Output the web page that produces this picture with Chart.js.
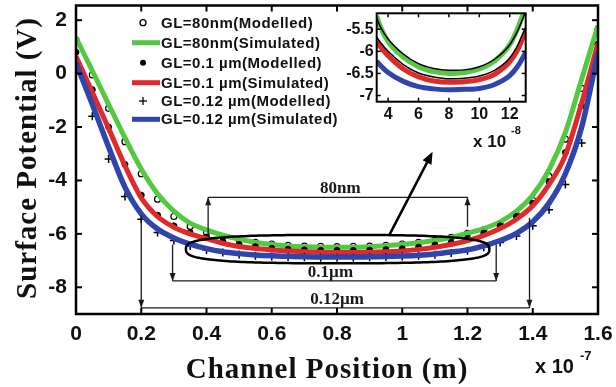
<!DOCTYPE html>
<html>
<head>
<meta charset="utf-8">
<script src="https://cdn.jsdelivr.net/npm/chart.js@4.4.1/dist/chart.umd.min.js"></script>
<style>
  html, body { margin: 0; padding: 0; background: #fff; }
  #wrap { position: relative; width: 616px; height: 387px; }
  #main { position: absolute; left: 0; top: 0; }
  #inset { position: absolute; left: 320px; top: 6px; }
</style>
</head>
<body>
<div id="wrap">
  <canvas id="main" width="616" height="387"></canvas>
  <canvas id="inset" width="210" height="150"></canvas>
</div>
<script>
// channel position, in units of 1e-7 m
const xPos = [0, 0.05, 0.1, 0.15, 0.2, 0.25, 0.3, 0.35, 0.4, 0.45, 0.5, 0.55, 0.6, 0.65, 0.7, 0.75, 0.8,
              0.85, 0.9, 0.95, 1.0, 1.05, 1.1, 1.15, 1.2, 1.25, 1.3, 1.35, 1.4, 1.45, 1.5, 1.55, 1.6];

// surface potential (V)
const mod80  = [1.25, -0.05, -1.3, -2.55, -3.75, -4.7, -5.35, -5.72, -5.95, -6.1, -6.22, -6.32, -6.38, -6.43, -6.46, -6.47, -6.48,
                -6.47, -6.46, -6.43, -6.38, -6.32, -6.24, -6.13, -5.98, -5.85, -5.65, -5.3, -4.75, -3.85, -2.45, -0.55, 1.65];
const sim80  = [1.35, 0.1, -1.15, -2.4, -3.57, -4.5, -5.15, -5.6, -5.85, -6.05, -6.2, -6.32, -6.4, -6.45, -6.48, -6.5, -6.5,
                -6.5, -6.48, -6.44, -6.4, -6.33, -6.25, -6.13, -5.97, -5.8, -5.55, -5.15, -4.55, -3.6, -2.2, -0.2, 1.8];
const mod01  = [0.8, -0.6, -2.0, -3.4, -4.55, -5.3, -5.7, -5.95, -6.12, -6.28, -6.4, -6.48, -6.54, -6.58, -6.6, -6.62, -6.62,
                -6.62, -6.61, -6.59, -6.56, -6.5, -6.42, -6.32, -6.17, -5.97, -5.7, -5.35, -4.85, -4.05, -2.95, -1.2, 1.1];
const sim01  = [0.65, -0.7, -2.05, -3.45, -4.65, -5.35, -5.75, -6.0, -6.18, -6.35, -6.47, -6.55, -6.6, -6.64, -6.67, -6.69, -6.7,
                -6.7, -6.69, -6.67, -6.64, -6.58, -6.5, -6.4, -6.25, -6.06, -5.8, -5.45, -4.95, -4.15, -3.05, -1.1, 1.15];
const mod012 = [0.2, -1.6, -3.2, -4.6, -5.45, -5.95, -6.25, -6.45, -6.6, -6.7, -6.77, -6.82, -6.85, -6.87, -6.88, -6.89, -6.89,
                -6.89, -6.88, -6.87, -6.85, -6.82, -6.78, -6.72, -6.63, -6.5, -6.32, -6.08, -5.7, -5.1, -4.15, -2.6, 0.1];
const sim012 = [0.4, -1.15, -2.75, -4.25, -5.25, -5.82, -6.15, -6.38, -6.55, -6.67, -6.74, -6.79, -6.82, -6.84, -6.86, -6.87, -6.87,
                -6.87, -6.86, -6.85, -6.83, -6.8, -6.75, -6.68, -6.6, -6.45, -6.25, -5.98, -5.55, -4.85, -3.75, -2.0, 0.8];

const legendLabels = ['GL=80nm(Modelled)', 'GL=80nm(Simulated)', 'GL=0.1 µm(Modelled)',
                      'GL=0.1 µm(Simulated)', 'GL=0.12 µm(Modelled)', 'GL=0.12 µm(Simulated)'];

const xTickVals = [0, 0.2, 0.4, 0.6, 0.8, 1, 1.2, 1.4, 1.6];
const xTickText = ['0', '0.2', '0.4', '0.6', '0.8', '1', '1.2', '1.4', '1.6'];
const yTickVals = [-8, -6, -4, -2, 0, 2];
const yTickText = ['-8', '-6', '-4', '-2', '0', '2'];

// inset (zoom of the bottom), position in units of 1e-8 m
const insetX      = [3.25, 3.5, 4, 5, 6, 7, 8, 9, 10, 11, 12, 12.5, 13.05];
const insetSim80  = [-5.2, -5.45, -5.78, -6.13, -6.35, -6.46, -6.5, -6.48, -6.4, -6.22, -5.85, -5.5, -5.0];
const insetMod80  = [-5.25, -5.45, -5.72, -6.06, -6.28, -6.39, -6.43, -6.42, -6.35, -6.18, -5.85, -5.55, -5.1];
const insetSim01  = [-5.78, -5.9, -6.1, -6.4, -6.58, -6.67, -6.7, -6.69, -6.64, -6.52, -6.24, -5.98, -5.55];
const insetMod01  = [-5.68, -5.8, -6.0, -6.3, -6.49, -6.58, -6.62, -6.61, -6.56, -6.43, -6.15, -5.88, -5.45];
const insetSim012 = [-6.22, -6.32, -6.48, -6.68, -6.8, -6.85, -6.87, -6.86, -6.84, -6.75, -6.55, -6.35, -6.03];
const insetXTicks = [4, 6, 8, 10, 12];
const insetXText  = ['4', '6', '8', '10', '12'];
const insetYTicks = [-7, -6.5, -6, -5.5];
const insetYText  = ['-7', '-6.5', '-6', '-5.5'];

const GREEN = '#52c93f', RED = '#e02a2a', BLUE = '#2f45ad';
const SANS = '"Liberation Sans", Arial, sans-serif';
const SERIF = '"Liberation Serif", "Times New Roman", serif';

const pts = (xs, ys) => ys.map((v, i) => ({ x: xs[i], y: v }));

// keep the plot box where the layout padding puts it
const noScalePad = s => { s.paddingTop = 0; s.paddingBottom = 0; s.paddingLeft = 0; s.paddingRight = 0; };

function arrowHead(ctx, x, y, ang, len, half) {
  ctx.beginPath();
  ctx.moveTo(x, y);
  ctx.lineTo(x - len * Math.cos(ang) + half * Math.sin(ang), y - len * Math.sin(ang) - half * Math.cos(ang));
  ctx.lineTo(x - len * Math.cos(ang) - half * Math.sin(ang), y - len * Math.sin(ang) + half * Math.cos(ang));
  ctx.closePath();
  ctx.fill();
}

function seg(ctx, x0, y0, x1, y1) {
  ctx.beginPath(); ctx.moveTo(x0, y0); ctx.lineTo(x1, y1); ctx.stroke();
}

function marker(ctx, style, x, y) {
  ctx.strokeStyle = '#000'; ctx.fillStyle = '#000'; ctx.lineWidth = 1.3;
  if (style === 'cross') {
    seg(ctx, x - 4, y, x + 4, y); seg(ctx, x, y - 4, x, y + 4);
  } else {
    ctx.beginPath(); ctx.arc(x, y, 3, 0, Math.PI * 2);
    if (style === 'dot') ctx.fill(); else ctx.stroke();
  }
}

// dimension lines drawn under the curves' flat part, in data units
const dims = [
  { x0: 0.405, x1: 1.2, from0: -6.04, from1: -5.73, at: -4.63, label: '80nm', lx: 0.81, ly: -4.3 },
  { x0: 0.296, x1: 1.288, from0: -6.4, from1: -6.4, at: -7.76, label: '0.1µm', lx: 0.78, ly: -7.44 },
  { x0: 0.2, x1: 1.39, from0: -5.3, from1: -5.4, at: -8.77, label: '0.12µm', lx: 0.8, ly: -8.47 }
];

const decor = {
  id: 'decor',
  afterDatasetsDraw(chart) {
    const { ctx, chartArea: a, scales: { x, y } } = chart;
    const X = v => x.getPixelForValue(v), Y = v => y.getPixelForValue(v);
    ctx.save();

    // dimension lines
    ctx.strokeStyle = '#1a1a1a'; ctx.fillStyle = '#1a1a1a'; ctx.lineWidth = 1.3;
    dims.forEach(d => {
      const ya = Y(d.at);
      seg(ctx, X(d.x0), ya, X(d.x1), ya);
      [[d.x0, d.from0], [d.x1, d.from1]].forEach(([xv, fv]) => {
        const yf = Y(fv);
        seg(ctx, X(xv), yf, X(xv), ya);
        arrowHead(ctx, X(xv), ya, ya < yf ? -Math.PI / 2 : Math.PI / 2, 8, 3);
      });
      ctx.font = 'bold 17px ' + SERIF;
      ctx.textAlign = 'center'; ctx.textBaseline = 'middle';
      ctx.fillText(d.label, X(d.lx), Y(d.ly));
    });

    // ellipse round the flat region
    const cx = X(0.802), cy = Y(-6.57), rx = X(1.267) - X(0.802), ry = Y(-7.1) - Y(-6.57);
    ctx.strokeStyle = '#000'; ctx.lineWidth = 2.5;
    ctx.beginPath();
    for (let k = 0; k <= 200; k++) {
      const t = k / 200 * Math.PI * 2, c = Math.cos(t), s = Math.sin(t);
      const px = cx + rx * Math.sign(c) * Math.pow(Math.abs(c), 2 / 3);
      const py = cy + ry * Math.sign(s) * Math.pow(Math.abs(s), 2 / 3);
      k ? ctx.lineTo(px, py) : ctx.moveTo(px, py);
    }
    ctx.closePath(); ctx.stroke();

    // pointer to the inset
    const ax0 = X(0.961), ay0 = Y(-6.03), ax1 = X(1.093), ay1 = Y(-2.93);
    const ang = Math.atan2(ay1 - ay0, ax1 - ax0);
    ctx.lineWidth = 2.5; ctx.fillStyle = '#000';
    seg(ctx, ax0, ay0, ax1 - 4 * Math.cos(ang), ay1 - 4 * Math.sin(ang));
    arrowHead(ctx, ax1, ay1, ang, 12, 5);

    // frame and inward ticks
    ctx.strokeStyle = '#000'; ctx.lineWidth = 2.5;
    ctx.strokeRect(a.left, a.top, a.right - a.left, a.bottom - a.top);
    ctx.lineWidth = 2;
    xTickVals.forEach(v => { const p = X(v); seg(ctx, p, a.bottom, p, a.bottom - 6); seg(ctx, p, a.top, p, a.top + 6); });
    yTickVals.forEach(v => { const p = Y(v); seg(ctx, a.left, p, a.left + 6, p); seg(ctx, a.right, p, a.right - 6, p); });

    // legend
    const rows = [22.7, 42.7, 62.7, 82.7, 101, 119.3];
    chart.data.datasets.forEach((ds, i) => {
      const ry0 = rows[i];
      if (ds.showLine === false) {
        marker(ctx, ds.legendMarker, 143, ry0);
      } else {
        ctx.strokeStyle = ds.borderColor; ctx.lineWidth = 5;
        seg(ctx, 132, ry0, 160, ry0);
      }
      ctx.fillStyle = '#111'; ctx.font = 'bold 15px ' + SANS;
      ctx.letterSpacing = '0.5px';
      ctx.textAlign = 'left'; ctx.textBaseline = 'middle';
      ctx.fillText(ds.label, 161, ry0 + 1);
    });

    // axis titles
    ctx.fillStyle = '#111';
    ctx.font = 'bold 29px ' + SERIF;
    ctx.letterSpacing = '1px';
    ctx.textAlign = 'center'; ctx.textBaseline = 'alphabetic';
    ctx.fillText('Channel Position (m)', 327, 378);
    ctx.save();
    ctx.translate(36, 158); ctx.rotate(-Math.PI / 2);
    ctx.fillText('Surface Potential (V)', 0, 0);
    ctx.restore();
    ctx.letterSpacing = '0px';

    // exponent
    ctx.textAlign = 'left';
    ctx.font = 'bold 20px ' + SANS;
    ctx.fillText('x 10', 535, 373);
    ctx.font = 'bold 13px ' + SANS;
    ctx.fillText('-7', 580, 360);
    ctx.restore();
  }
};

new Chart(document.getElementById('main'), {
  type: 'line',
  data: {
    datasets: [
      { label: legendLabels[0], data: pts(xPos, mod80), showLine: false, legendMarker: 'ring', order: 5,
        pointStyle: 'circle', pointRadius: 3, pointBorderColor: '#000', pointBackgroundColor: '#fff', pointBorderWidth: 1.2 },
      { label: legendLabels[1], data: pts(xPos, sim80), borderColor: GREEN, borderWidth: 5, pointRadius: 0,
        cubicInterpolationMode: 'monotone', order: 4 },
      { label: legendLabels[2], data: pts(xPos, mod01), showLine: false, legendMarker: 'dot', order: 3,
        pointStyle: 'circle', pointRadius: 3, pointBorderColor: '#000', pointBackgroundColor: '#000', pointBorderWidth: 1 },
      { label: legendLabels[3], data: pts(xPos, sim01), borderColor: RED, borderWidth: 5, pointRadius: 0,
        cubicInterpolationMode: 'monotone', order: 2 },
      { label: legendLabels[4], data: pts(xPos, mod012), showLine: false, legendMarker: 'cross', order: 1,
        pointStyle: 'cross', pointRadius: 4, pointBorderColor: '#000', pointBorderWidth: 1.5 },
      { label: legendLabels[5], data: pts(xPos, sim012), borderColor: BLUE, borderWidth: 5.5, pointRadius: 0,
        cubicInterpolationMode: 'monotone', order: 0 }
    ]
  },
  options: {
    responsive: false,
    animation: false,
    layout: { padding: { top: 5, right: 18, left: 0, bottom: 0 } },
    plugins: { legend: { display: false }, tooltip: { enabled: false } },
    scales: {
      x: {
        type: 'linear', min: 0, max: 1.6,
        grid: { display: false, drawTicks: false }, border: { display: false },
        afterBuildTicks: s => { s.ticks = xTickVals.map(v => ({ value: v })); },
        afterFit: s => { s.height = 73; noScalePad(s); },
        ticks: { callback: (v, i) => xTickText[i], autoSkip: false, maxRotation: 0, padding: 8,
                 color: '#111', font: { family: SANS, size: 21, weight: 'bold' } }
      },
      y: {
        min: -9, max: 2.55,
        grid: { display: false, drawTicks: false }, border: { display: false },
        afterBuildTicks: s => { s.ticks = yTickVals.map(v => ({ value: v })); },
        afterFit: s => { s.width = 76; noScalePad(s); },
        ticks: { callback: (v, i) => yTickText[i], padding: 9,
                 color: '#111', font: { family: SANS, size: 21, weight: 'bold' } }
      }
    }
  },
  plugins: [decor]
});

const insetDecor = {
  id: 'insetDecor',
  afterDatasetsDraw(chart) {
    const { ctx, chartArea: a, scales: { x, y } } = chart;
    ctx.save();
    ctx.strokeStyle = '#000'; ctx.lineWidth = 2;
    ctx.strokeRect(a.left, a.top, a.right - a.left, a.bottom - a.top);
    ctx.lineWidth = 1.5;
    insetXTicks.forEach(v => { const p = x.getPixelForValue(v); seg(ctx, p, a.bottom, p, a.bottom - 4); seg(ctx, p, a.top, p, a.top + 4); });
    insetYTicks.forEach(v => { const p = y.getPixelForValue(v); seg(ctx, a.left, p, a.left + 4, p); seg(ctx, a.right, p, a.right - 4, p); });
    ctx.fillStyle = '#111'; ctx.textAlign = 'left'; ctx.textBaseline = 'alphabetic';
    ctx.font = 'bold 17px ' + SANS;
    ctx.fillText('x 10', 153, 141);
    ctx.font = 'bold 11px ' + SANS;
    ctx.fillText('-8', 191, 128);
    ctx.restore();
  }
};

new Chart(document.getElementById('inset'), {
  type: 'line',
  data: {
    datasets: [
      { data: pts(insetX, insetMod80), borderColor: '#000', borderWidth: 1.5, pointRadius: 0, cubicInterpolationMode: 'monotone', order: 0 },
      { data: pts(insetX, insetSim80), borderColor: GREEN, borderWidth: 5, pointRadius: 0, cubicInterpolationMode: 'monotone', order: 1 },
      { data: pts(insetX, insetMod01), borderColor: '#000', borderWidth: 1.5, pointRadius: 0, cubicInterpolationMode: 'monotone', order: 2 },
      { data: pts(insetX, insetSim01), borderColor: RED, borderWidth: 5, pointRadius: 0, cubicInterpolationMode: 'monotone', order: 3 },
      { data: pts(insetX, insetSim012), borderColor: BLUE, borderWidth: 5, pointRadius: 0, cubicInterpolationMode: 'monotone', order: 4 }
    ]
  },
  options: {
    responsive: false,
    animation: false,
    layout: { padding: { top: 7.3, right: 4.3, left: 0, bottom: 0 } },
    plugins: { legend: { display: false }, tooltip: { enabled: false } },
    scales: {
      x: {
        type: 'linear', min: 3.25, max: 13.05,
        grid: { display: false, drawTicks: false }, border: { display: false },
        afterBuildTicks: s => { s.ticks = insetXTicks.map(v => ({ value: v })); },
        afterFit: s => { s.height = 54.3; noScalePad(s); },
        ticks: { callback: (v, i) => insetXText[i], autoSkip: false, maxRotation: 0, padding: 3,
                 color: '#111', font: { family: SANS, size: 16, weight: 'bold' } }
      },
      y: {
        min: -7.14, max: -5.14,
        grid: { display: false, drawTicks: false }, border: { display: false },
        afterBuildTicks: s => { s.ticks = insetYTicks.map(v => ({ value: v })); },
        afterFit: s => { s.width = 56.7; noScalePad(s); },
        ticks: { callback: (v, i) => insetYText[i], padding: 3,
                 color: '#111', font: { family: SANS, size: 16, weight: 'bold' } }
      }
    }
  },
  plugins: [insetDecor]
});
</script>
</body>
</html>
